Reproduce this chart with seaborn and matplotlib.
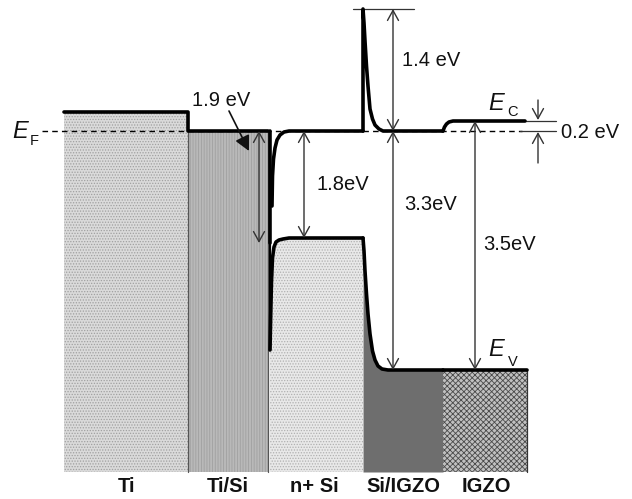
import numpy as np
import matplotlib
matplotlib.use("Agg")
import matplotlib.pyplot as plt
import seaborn as sns

# ---------------- data (diagram units: x = position, y = energy, E_F = 0) -------------
regions = ["Ti", "Ti/Si", "n+ Si", "Si/IGZO", "IGZO"]
region_edges = [64, 188, 268, 363, 443, 527]
region_label_x = [126, 228, 314, 403, 486]
bottom_level = -341

# metal levels (Ti, Ti/Si)
metal_x = [64, 188, 188, 268]
metal_y = [19, 19, 0, 0]

# Ti/Si interface line
iface_x = [270, 270]
iface_thick_y = [0, -112]
iface_thin_y = [-112, -219]

# conduction band pieces
cb_nsi_x = [272, 272.5, 273.5, 275, 277, 280, 284, 289, 363]
cb_nsi_y = [-75, -45, -28, -17, -9, -4, -1, 0, 0]
spike_x = [363, 363, 364, 365, 366.5, 368, 370, 372.5, 375, 379, 383, 443]
spike_y = [0, 122, 108, 90, 65, 45, 22, 12, 6, 2, 0, 0]
cb_igzo_x = [443, 444.5, 446.5, 449, 453, 458, 525]
cb_igzo_y = [0, 4, 7, 9, 10, 10, 10]

# valence band pieces
vb_nsi_x = [270, 270.7, 271.5, 272.5, 274, 276, 279, 283, 289, 363]
vb_nsi_y = [-219, -185, -150, -127, -116, -111, -109, -108, -107, -107]
vb_sigzo_x = [363, 364, 365, 366.5, 368, 370, 372.5, 375, 378, 382, 388, 443]
vb_sigzo_y = [-107, -120, -140, -163, -183, -203, -220, -229, -235, -238, -239, -239]
vb_igzo_x = [443, 527]
vb_igzo_y = [-239, -239]

# energy gap annotations: (x, y_start, y_end, label, label_x, label_y)
gaps_x = [393, 393, 304, 475, 259]
gaps_y0 = [122, 0, 0, 10, 0]
gaps_y1 = [0, -239, -107, -239, -112]
gap_labels = ["1.4 eV", "3.3eV", "1.8eV", "3.5eV", ""]
gap_label_x = [402, 404, 316, 483, 0]
gap_label_y = [70, -73, -54, -114, 0]

# ---------------- drawing ----------------
sns.set_theme(style="white")
plt.rcParams["font.family"] = ["Liberation Sans", "DejaVu Sans"]
plt.rcParams["hatch.linewidth"] = 0.6

fig = plt.figure(figsize=(6.32, 4.99), dpi=100)
ax = fig.add_axes([0, 0, 1, 1])
ax.set_xlim(0, 632)
ax.set_ylim(-368, 131)
ax.axis("off")

# region fills
ax.fill_between([region_edges[0], region_edges[1]], bottom_level, metal_y[0],
                facecolor="#dadada", hatch="......", edgecolor="#a0a0a0", linewidth=0, zorder=1)
ax.fill_between([region_edges[1], region_edges[2]], bottom_level, metal_y[2],
                facecolor="#b9b9b9", hatch="||||||", edgecolor="#a0a0a0", linewidth=0, zorder=1)
ax.fill_between(vb_nsi_x, bottom_level, vb_nsi_y,
                facecolor="#e8e8e8", hatch="......", edgecolor="#b0b0b0", linewidth=0, zorder=1)
ax.fill_between(vb_sigzo_x, bottom_level, vb_sigzo_y,
                facecolor="#6e6e6e", linewidth=0, zorder=1)
ax.fill_between(vb_igzo_x, bottom_level, vb_igzo_y,
                facecolor="#c0c0c0", hatch="xxxxxx", edgecolor="#4a4a4a", linewidth=0, zorder=1)

# thin region borders
for xb in [region_edges[1], region_edges[2]]:
    ax.plot([xb, xb], [0, bottom_level], color="#555555", lw=0.9, zorder=2)
ax.plot([region_edges[5], region_edges[5]], [vb_igzo_y[-1], bottom_level], color="#333333", lw=0.9, zorder=2)

# Fermi level
ax.plot([42, 522], [0, 0], color="black", lw=1.0, ls=(0, (4, 3)), zorder=3)

# band lines via seaborn
band_lw = 2.6
for bx, by in [(metal_x, metal_y), (cb_nsi_x, cb_nsi_y), (spike_x, spike_y),
               (cb_igzo_x, cb_igzo_y), (vb_nsi_x, vb_nsi_y), (vb_sigzo_x, vb_sigzo_y),
               (vb_igzo_x, vb_igzo_y), (iface_x, iface_thick_y)]:
    sns.lineplot(x=bx, y=by, ax=ax, color="black", lw=band_lw, sort=False,
                 estimator=None, legend=False, zorder=5)
sns.lineplot(x=iface_x, y=iface_thin_y, ax=ax, color="black", lw=1.6, sort=False,
             estimator=None, legend=False, zorder=5)

# reference lines
ax.plot([353, 414], [spike_y[1], spike_y[1]], color="#333333", lw=0.9, zorder=4)
ax.plot([525, 556], [cb_igzo_y[-1], cb_igzo_y[-1]], color="#333333", lw=0.9, zorder=4)
ax.plot([520, 556], [0, 0], color="#333333", lw=0.9, zorder=4)

arrow_kw = dict(arrowstyle="<->,head_length=0.6,head_width=0.33", color="#333333",
                lw=1.0, shrinkA=0, shrinkB=0)
for gx, g0, g1, lab, lx, ly in zip(gaps_x, gaps_y0, gaps_y1, gap_labels, gap_label_x, gap_label_y):
    ax.annotate("", xy=(gx, g1), xytext=(gx, g0), arrowprops=arrow_kw, zorder=6)
    if lab:
        ax.text(lx, ly, lab, fontsize=14.5, ha="left", va="center", color="#111111", zorder=7)

# 0.2 eV arrows
single_kw = dict(arrowstyle="->,head_length=0.6,head_width=0.33", color="#333333",
                 lw=1.0, shrinkA=0, shrinkB=0)
ax.annotate("", xy=(538, cb_igzo_y[-1] + 1), xytext=(538, 31), arrowprops=single_kw)
ax.annotate("", xy=(538, -1), xytext=(538, -32), arrowprops=single_kw)
ax.text(561, -1, "0.2 eV", fontsize=14.5, ha="left", va="center", color="#111111")

# 1.9 eV label + pointer
ax.text(192, 30, "1.9 eV", fontsize=14.5, ha="left", va="center", color="#111111")
ax.annotate("", xy=(249, -20), xytext=(229, 20),
            arrowprops=dict(arrowstyle="-|>,head_length=0.75,head_width=0.38",
                            color="#111111", lw=1.2, shrinkA=0, shrinkB=0), zorder=7)

# E labels
def elabel(x, y, sub, sx, sy):
    ax.text(x, y, "E", fontsize=17, style="italic", ha="left", va="center", color="#111111")
    ax.text(sx, sy, sub, fontsize=10.5, ha="left", va="center", color="#111111")

elabel(12, -1, "F", 30, -10)
elabel(488, 28, "C", 507, 19)
elabel(488, -219, "V", 508, -231)

# region labels
for name, lx in zip(regions, region_label_x):
    ax.text(lx, -356, name, fontsize=14.5, fontweight="bold", ha="center", va="center",
            color="#111111")

fig.savefig("out.png", dpi=100)
